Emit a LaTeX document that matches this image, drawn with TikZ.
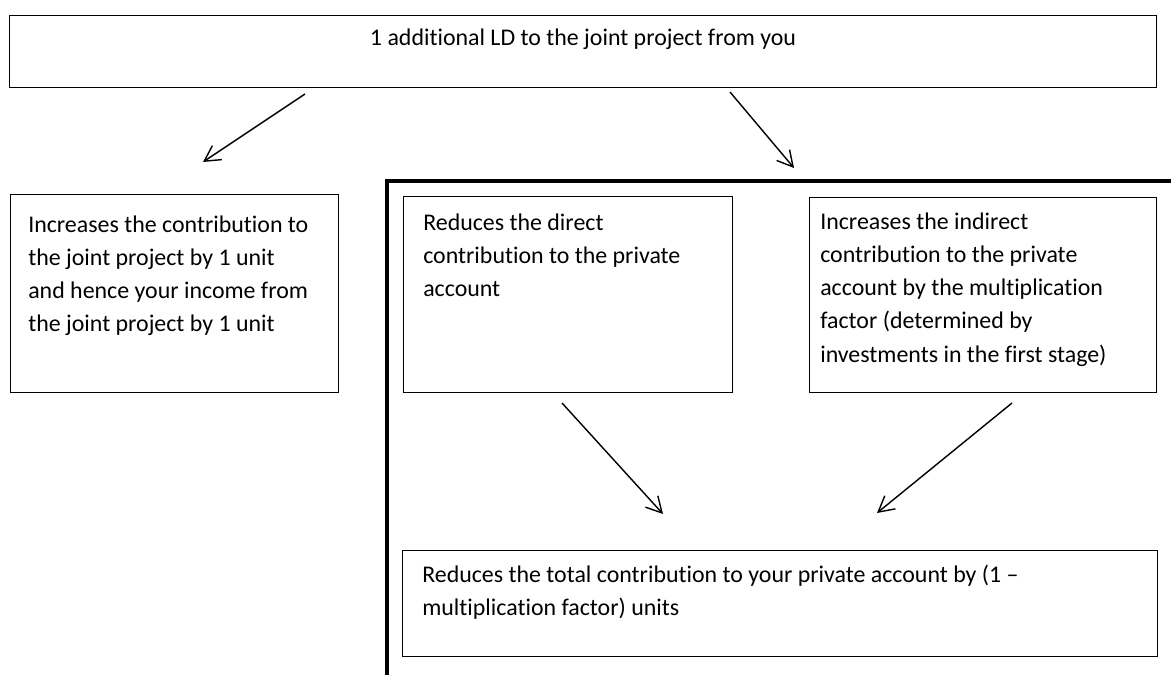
\documentclass[tikz,border=0pt]{standalone}
\usepackage{fontspec}
\setmainfont[Ligatures=NoCommon]{Carlito}
\usepackage{tikz}
\usetikzlibrary{arrows.meta,positioning}

\begin{document}
\begin{tikzpicture}[
		>={Straight Barb[length=11pt,width=12pt]},
		box/.style={draw, line width=0.8pt, anchor=north west, inner sep=0pt},
		txt/.style={anchor=north west, inner sep=0pt, align=left, font=\fontsize{17}{23.5}\selectfont}
	]
		\useasboundingbox (0,0) rectangle (29.275,16.875);
		
		% Boxes
		\node[box, minimum width=28.675cm, minimum height=1.8cm] (top) at (0.225,16.5) {};
		\node[box, minimum width=8.2cm, minimum height=4.95cm] (left) at (0.25,12.025) {};
		\node[box, minimum width=8.225cm, minimum height=4.9cm] (direct) at (10.075,11.975) {};
		\node[box, minimum width=8.675cm, minimum height=4.875cm] (indirect) at (20.225,11.95) {};
		\node[box, minimum width=18.875cm, minimum height=2.65cm] (total) at (10.05,3.125) {};
		
		% Texts
		\node[txt, align=center, below=0.33cm of top.north] (toptext) {1 additional LD to the joint project from you};
		\node[txt, below right=0.55cm and 0.45cm of left.north west] (lefttext)
			{Increases the contribution to\\the joint project by 1 unit\\and hence your income from\\the joint project by 1 unit};
		\node[txt, below right=0.43cm and 0.5cm of direct.north west] (directtext)
			{Reduces the direct\\contribution to the private\\account};
		\node[txt, below right=0.4cm and 0.275cm of indirect.north west] (indirecttext)
			{Increases the indirect\\contribution to the private\\account by the multiplication\\factor (determined by\\investments in the first stage)};
		\node[txt, below right=0.38cm and 0.5cm of total.north west] (totaltext)
			{Reduces the total contribution to your private account by (1 –\\multiplication factor) units};
		
		% Thick bracket line
		\draw[line width=2.5pt] (9.675,0) -- (9.675,12.35) -- (29.275,12.35);
		
		% Arrows
		\coordinate (S_1) at (7.625,14.525);
		\coordinate (E_1) at (5.075,12.825);
		\coordinate (S_2) at (18.25,14.575);
		\coordinate (E_2) at (19.85,12.675);
		\coordinate (S_3) at (14.05,6.8);
		\coordinate (E_3) at (16.575,4.025);
		\coordinate (S_4) at (25.3,6.8);
		\coordinate (E_4) at (21.925,4.05);
		\foreach \i in {1,...,4}
			\draw[->, line width=1pt] (S_\i) -- (E_\i);
	\end{tikzpicture}
\end{document}
